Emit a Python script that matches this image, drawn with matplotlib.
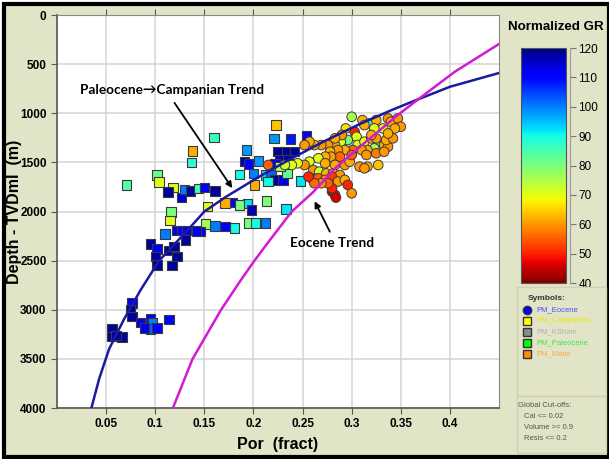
import numpy as np
import matplotlib
matplotlib.use("Agg")
import matplotlib.pyplot as plt
from matplotlib.patches import Rectangle

# square symbols (Paleocene / Campanian / Maas) : porosity, depth, normalized GR
sq_por = [0.071, 0.102, 0.104, 0.118, 0.113, 0.127, 0.130, 0.136, 0.144, 0.150,
          0.161, 0.138, 0.137, 0.160, 0.223, 0.221, 0.238, 0.254, 0.193, 0.191,
          0.195, 0.205, 0.186, 0.200, 0.201, 0.212, 0.218, 0.225, 0.234, 0.242,
          0.227, 0.235, 0.222, 0.222, 0.230, 0.234, 0.227, 0.215, 0.248, 0.194,
          0.198, 0.213, 0.233, 0.178, 0.171, 0.186, 0.195, 0.202, 0.212, 0.181,
          0.171, 0.161, 0.151, 0.146, 0.153, 0.116, 0.115, 0.110, 0.122, 0.127,
          0.132, 0.142, 0.131, 0.095, 0.102, 0.114, 0.119, 0.100, 0.122, 0.102,
          0.117, 0.0765, 0.075, 0.0765, 0.085, 0.095, 0.097, 0.095, 0.102, 0.089,
          0.114, 0.056, 0.056, 0.066, 0.060]
sq_depth = [1730, 1628, 1700, 1753, 1803, 1855, 1773, 1790, 1763, 1757,
            1790, 1384, 1499, 1249, 1118, 1255, 1262, 1228, 1374, 1492,
            1516, 1486, 1621, 1611, 1730, 1628, 1628, 1391, 1391, 1391,
            1475, 1475, 1509, 1678, 1678, 1611, 1543, 1695, 1688, 1920,
            1983, 1892, 1976, 1905, 1915, 1932, 2118, 2118, 2118, 2169,
            2153, 2145, 2127, 2204, 1950, 2005, 2092, 2230, 2194, 2194,
            2194, 2197, 2288, 2332, 2383, 2397, 2356, 2458, 2458, 2542,
            2552, 2931, 2999, 3067, 3128, 3094, 3135, 3196, 3186, 3186,
            3101, 3196, 3271, 3277, 3263]
sq_gr = [84, 82, 70, 70, 118, 114, 100, 118, 86, 110,
         118, 62, 88, 86, 64, 98, 108, 110, 98, 116,
         110, 98, 90, 100, 62, 92, 102, 118, 118, 118,
         116, 118, 112, 118, 112, 82, 76, 90, 92, 92,
         116, 80, 92, 110, 62, 80, 80, 90, 100, 90,
         110, 100, 76, 110, 70, 80, 70, 100, 112, 110,
         112, 110, 118, 118, 112, 118, 118, 118, 118, 118,
         118, 110, 118, 118, 112, 110, 100, 102, 110, 112,
         110, 118, 118, 118, 118]

# circle symbols (Eocene)
ci_por = [0.300, 0.311, 0.318, 0.325, 0.337, 0.340, 0.347, 0.350, 0.344, 0.332,
          0.323, 0.313, 0.303, 0.294, 0.305, 0.296, 0.289, 0.283, 0.276, 0.269,
          0.262, 0.257, 0.252, 0.306, 0.313, 0.320, 0.327, 0.333, 0.337, 0.323,
          0.316, 0.310, 0.301, 0.293, 0.286, 0.278, 0.315, 0.325, 0.333, 0.288,
          0.279, 0.273, 0.266, 0.257, 0.252, 0.245, 0.239, 0.232, 0.215, 0.273,
          0.283, 0.293, 0.298, 0.308, 0.316, 0.327, 0.261, 0.267, 0.274, 0.281,
          0.288, 0.259, 0.266, 0.273, 0.280, 0.286, 0.293, 0.296, 0.300, 0.280,
          0.283, 0.284, 0.280, 0.276, 0.269, 0.262, 0.256, 0.335, 0.342, 0.337,
          0.325, 0.320, 0.290, 0.283, 0.313, 0.300]
ci_depth = [1035, 1069, 1103, 1069, 1052, 1086, 1052, 1137, 1154, 1154,
            1154, 1120, 1188, 1154, 1239, 1272, 1289, 1323, 1323, 1323,
            1323, 1289, 1323, 1323, 1289, 1255, 1323, 1323, 1340, 1357,
            1374, 1374, 1374, 1374, 1374, 1391, 1424, 1407, 1391, 1441,
            1441, 1441, 1458, 1492, 1526, 1509, 1526, 1526, 1526, 1509,
            1526, 1526, 1492, 1543, 1543, 1526, 1577, 1594, 1611, 1611,
            1628, 1661, 1661, 1678, 1645, 1695, 1678, 1729, 1814, 1797,
            1831, 1858, 1763, 1712, 1712, 1712, 1645, 1272, 1255, 1205,
            1255, 1221, 1221, 1255, 1560, 1424]
ci_gr = [76, 62, 88, 62, 60, 62, 60, 60, 62, 70,
         70, 62, 50, 66, 70, 80, 72, 62, 60, 60,
         62, 62, 60, 72, 70, 62, 90, 62, 60, 76,
         62, 60, 56, 62, 60, 62, 60, 58, 60, 56,
         60, 62, 70, 70, 60, 70, 70, 72, 55, 62,
         62, 60, 62, 60, 62, 64, 60, 72, 62, 60,
         60, 50, 55, 60, 52, 60, 62, 50, 60, 44,
         48, 46, 50, 55, 60, 56, 50, 62, 60, 62,
         60, 62, 60, 62, 60, 55]

# trend lines
pc_trend_por = [0.035, 0.043, 0.053, 0.068, 0.085, 0.104, 0.132, 0.150, 0.172,
                0.205, 0.236, 0.271, 0.306, 0.340, 0.362, 0.400, 0.451]
pc_trend_depth = [4000, 3700, 3400, 3100, 2800, 2500, 2200, 2000, 1850,
                  1650, 1475, 1290, 1120, 970, 880, 730, 587]
eo_trend_por = [0.118, 0.138, 0.167, 0.187, 0.201, 0.216, 0.239, 0.261, 0.283,
                0.306, 0.327, 0.347, 0.371, 0.405, 0.451]
eo_trend_depth = [4000, 3500, 3000, 2700, 2500, 2300, 2000, 1800, 1560,
                  1360, 1186, 1017, 833, 577, 288]

x_ticks = [0.05, 0.1, 0.15, 0.2, 0.25, 0.3, 0.35, 0.4]
x_labels = ["0.05", "0.1", "0.15", "0.2", "0.25", "0.3", "0.35", "0.4"]
y_ticks = [0, 500, 1000, 1500, 2000, 2500, 3000, 3500, 4000]

legend_names = ["PM_Eocene", "PM_Campanian", "PM_KShale", "PM_Paleocene", "PM_Maas"]
legend_colors = ["#0000ff", "#ffff00", "#8c8c8c", "#00ff00", "#ff8c00"]
legend_text_colors = ["#4a4aff", "#e8e800", "#b0b0b0", "#3ae83a", "#ffa640"]
legend_markers = ["o", "s", "s", "s", "s"]
cutoffs = ["Cal <= 0.02", "Volume >= 0.9", "Resis <= 0.2"]

bg = "#e2e4c8"
plt.rcParams['font.family'] = ['Liberation Sans', 'DejaVu Sans']

fig = plt.figure(figsize=(6.09, 4.59), dpi=100)
fig.patch.set_facecolor("white")
fig.patches.append(Rectangle((0.006, 0.004), 0.994, 0.988, transform=fig.transFigure,
                             facecolor=bg, edgecolor="black", lw=3, zorder=-10))

ax = fig.add_axes([0.0936, 0.111, 0.7258, 0.8562])
ax.set_facecolor("white")
cmap = plt.get_cmap("jet_r")

ax.scatter(sq_por, sq_depth, c=sq_gr, cmap=cmap, vmin=40, vmax=120, marker="s",
           s=46, edgecolors="#3a3a3a", linewidths=0.8, zorder=3)
sc = ax.scatter(ci_por, ci_depth, c=ci_gr, cmap=cmap, vmin=40, vmax=120, marker="o",
                s=48, edgecolors="#3a3a3a", linewidths=0.7, zorder=4)
ax.plot(pc_trend_por, pc_trend_depth, color="#1a1aa0", lw=1.8, zorder=5)
ax.plot(eo_trend_por, eo_trend_depth, color="#d21ad2", lw=1.8, zorder=5)

ax.set_xlim(0, 0.45)
ax.set_ylim(4000, 0)
ax.set_xticks(x_ticks)
ax.set_xticklabels(x_labels)
ax.set_yticks(y_ticks)
ax.tick_params(axis="both", labelsize=8.5, length=4, color="#555555", top=True, direction="out")
for lab in ax.get_xticklabels() + ax.get_yticklabels():
    lab.set_fontweight("bold")
ax.grid(True, color="#d4d4d4", lw=1.1, zorder=0)
ax.set_axisbelow(True)
for side in ["left", "bottom"]:
    ax.spines[side].set_color("#555555")
    ax.spines[side].set_linewidth(1.2)
for side in ["top", "right"]:
    ax.spines[side].set_color("#888888")
ax.set_xlabel("Por  (fract)", fontsize=11.5, fontweight="bold", labelpad=5)
ax.set_ylabel("Depth - TVDml  (m)", fontsize=11.5, fontweight="bold")
ax.yaxis.set_label_coords(-0.08, 0.5)

ax.annotate("", xy=(0.18, 1785), xytext=(0.118, 870),
            arrowprops=dict(arrowstyle="-|>", color="black", lw=1.3, mutation_scale=9), zorder=6)
ax.text(0.117, 760, "Paleocene\u2192Campanian Trend", fontsize=9.8, fontweight="bold",
        family=["Lato", "DejaVu Sans"], ha="center", va="center", zorder=6)
ax.annotate("", xy=(0.261, 1870), xytext=(0.279, 2230),
            arrowprops=dict(arrowstyle="-|>", color="black", lw=1.3, mutation_scale=9), zorder=6)
ax.text(0.28, 2320, "Eocene Trend", fontsize=9.8, fontweight="bold",
        family=["Lato", "DejaVu Sans"], ha="center", va="center", zorder=6)

# colour bar
cax = fig.add_axes([0.8555, 0.3834, 0.0739, 0.512])
cb = fig.colorbar(sc, cax=cax, ticks=np.arange(40, 121, 10))
cb.outline.set_edgecolor("#555555")
cax.tick_params(labelsize=8.5, length=4, color="#777777", pad=2)
for lab in cax.get_yticklabels():
    lab.set_fontweight("bold")
cax.spines["right"].set_visible(True)
cax.spines["right"].set_position(("outward", 3))
cax.spines["right"].set_color("#999999")
fig.text(0.912, 0.942, "Normalized GR", fontsize=9.6, fontweight="bold", ha="center", va="center")

# symbols panel
fig.patches.append(Rectangle((0.849, 0.137), 0.146, 0.238, transform=fig.transFigure,
                             facecolor="none", edgecolor="#cfd1b0", lw=1))
fig.patches.append(Rectangle((0.849, 0.012), 0.146, 0.125, transform=fig.transFigure,
                             facecolor="none", edgecolor="#cfd1b0", lw=1))
fig.text(0.867, 0.350, "Symbols:", fontsize=6, fontweight="bold", color="#333333", va="center")
for i in range(len(legend_names)):
    yy = 0.325 - i * 0.024
    fig.lines.append(plt.Line2D([0.866], [yy], marker=legend_markers[i], markersize=6,
                                markerfacecolor=legend_colors[i], markeredgecolor="#333333",
                                transform=fig.transFigure))
    fig.text(0.881, yy, legend_names[i], fontsize=5.5, color=legend_text_colors[i], va="center")
fig.text(0.851, 0.117, "Global Cut-offs:", fontsize=5.5, color="#555555", va="center")
for i in range(len(cutoffs)):
    fig.text(0.860, 0.093 - i * 0.024, cutoffs[i], fontsize=5.5, color="#555555", va="center")

fig.savefig("out.png", dpi=100, facecolor=fig.get_facecolor())
